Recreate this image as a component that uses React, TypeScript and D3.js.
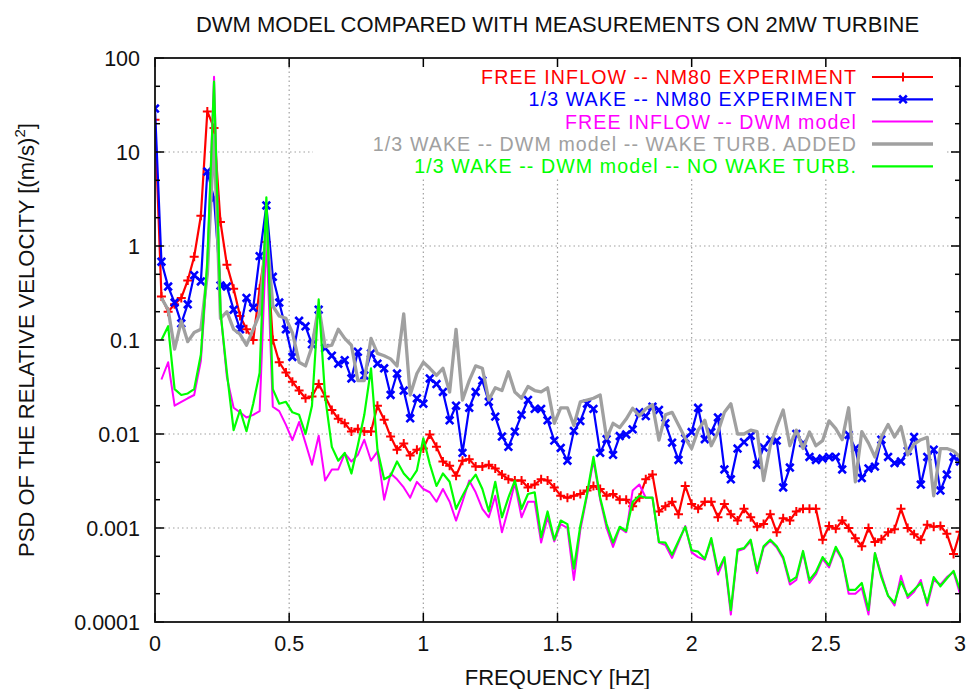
import * as d3 from "d3";

// sample frequencies [Hz], spacing 1/41 Hz
const FREQ = [
  0, 0.024, 0.049, 0.073, 0.098, 0.122, 0.146, 0.171, 0.195, 0.22,
  0.244, 0.268, 0.293, 0.317, 0.341, 0.366, 0.39, 0.415, 0.439, 0.463,
  0.488, 0.512, 0.537, 0.561, 0.585, 0.61, 0.634, 0.659, 0.683, 0.707,
  0.732, 0.756, 0.78, 0.805, 0.829, 0.854, 0.878, 0.902, 0.927, 0.951,
  0.976, 1.0, 1.024, 1.049, 1.073, 1.098, 1.122, 1.146, 1.171, 1.195,
  1.22, 1.244, 1.268, 1.293, 1.317, 1.341, 1.366, 1.39, 1.415, 1.439,
  1.463, 1.488, 1.512, 1.537, 1.561, 1.585, 1.61, 1.634, 1.659, 1.683,
  1.707, 1.732, 1.756, 1.78, 1.805, 1.829, 1.854, 1.878, 1.902, 1.927,
  1.951, 1.976, 2.0, 2.024, 2.049, 2.073, 2.098, 2.122, 2.146, 2.171,
  2.195, 2.22, 2.244, 2.268, 2.293, 2.317, 2.341, 2.366, 2.39, 2.415,
  2.439, 2.463, 2.488, 2.512, 2.537, 2.561, 2.585, 2.61, 2.634, 2.659,
  2.683, 2.707, 2.732, 2.756, 2.78, 2.805, 2.829, 2.854, 2.878, 2.902,
  2.927, 2.951, 2.976, 3.0,
];

const FREE_EXP = [
  22, 0.29, 0.2, 0.24, 0.28, 0.43, 0.77, 2.1, 27, 18,
  1.8, 0.63, 0.35, 0.18, 0.13, 0.1, 0.35, 1.1, 0.1, 0.058,
  0.045, 0.036, 0.029, 0.024, 0.025, 0.034, 0.025, 0.018, 0.0145, 0.013,
  0.0106, 0.0114, 0.0106, 0.0106, 0.02, 0.0142, 0.0094, 0.0068, 0.0079, 0.0059,
  0.0068, 0.007, 0.0099, 0.0073, 0.0051, 0.0046, 0.0036, 0.0052, 0.0054, 0.0045,
  0.0045, 0.0047, 0.0043, 0.0037, 0.0033, 0.0032, 0.0032, 0.0027, 0.0029, 0.0033,
  0.0032, 0.0027, 0.0022, 0.0021, 0.0022, 0.0023, 0.0025, 0.0028, 0.0026, 0.0022,
  0.0023, 0.002, 0.002, 0.0017, 0.0021, 0.0033, 0.0037, 0.0015, 0.0017, 0.0019,
  0.0014, 0.0028, 0.0018, 0.0016, 0.0019, 0.0019, 0.0013, 0.0018, 0.0014, 0.0012,
  0.0016, 0.0013, 0.00103, 0.0011, 0.0014, 0.0009, 0.00127, 0.0012, 0.0015, 0.0016,
  0.0016, 0.0016, 0.00075, 0.00105, 0.00098, 0.0012, 0.001, 0.00078, 0.00064, 0.001,
  0.00071, 0.00076, 0.0009, 0.00097, 0.0016, 0.001, 0.00086, 0.00075, 0.00108, 0.00103,
  0.00105, 0.00087, 0.00053, 0.00091,
];

const WAKE_EXP = [
  29, 0.68, 0.37, 0.25, 0.15, 0.24, 0.49, 0.42, 6.2, 3.2,
  0.38, 0.37, 0.21, 0.13, 0.28, 0.22, 0.78, 2.7, 0.47, 0.25,
  0.13, 0.066, 0.16, 0.14, 0.09, 0.21, 0.082, 0.068, 0.056, 0.061,
  0.039, 0.075, 0.042, 0.072, 0.056, 0.05, 0.026, 0.044, 0.029, 0.0147,
  0.024, 0.021, 0.039, 0.034, 0.028, 0.014, 0.02, 0.0063, 0.019, 0.028,
  0.037, 0.022, 0.0153, 0.0094, 0.0073, 0.0106, 0.016, 0.023, 0.0185, 0.0185,
  0.014, 0.0085, 0.0071, 0.0052, 0.0108, 0.0137, 0.021, 0.0185, 0.0063, 0.0088,
  0.006, 0.0095, 0.0099, 0.0112, 0.017, 0.0155, 0.0195, 0.018, 0.013, 0.0081,
  0.0053, 0.009, 0.0105, 0.019, 0.0088, 0.0105, 0.015, 0.0042, 0.0033, 0.007,
  0.0082, 0.0096, 0.0047, 0.0072, 0.0087, 0.0085, 0.0027, 0.0044, 0.01, 0.008,
  0.0057, 0.0053, 0.0055, 0.0057, 0.0057, 0.0042, 0.0098, 0.007, 0.0034, 0.0043,
  0.0045, 0.0087, 0.0057, 0.0049, 0.0051, 0.0066, 0.0093, 0.0029, 0.0057, 0.0068,
  0.0025, 0.0037, 0.0057, 0.0051,
];

const FREE_DWM = [
  null, 0.038, 0.058, 0.02, 0.022, 0.024, 0.026, 0.06, 0.6, 63,
  0.2, 0.04, 0.019, 0.017, 0.015, 0.016, 0.0175, 1.3, 0.0195, 0.0175,
  0.0125, 0.0086, 0.0134, 0.008, 0.0047, 0.0096, 0.0032, 0.0042, 0.0042, 0.0062,
  0.0051, 0.006, 0.0087, 0.0052, 0.0065, 0.002, 0.0038, 0.0033, 0.0027, 0.0021,
  0.0031, 0.0026, 0.0024, 0.0019, 0.0026, 0.0019, 0.0012, 0.0019, 0.0032, 0.0024,
  0.0016, 0.0013, 0.0022, 0.0009, 0.0016, 0.003, 0.0013, 0.0019, 0.0019, 0.0007,
  0.0013, 0.00072, 0.0011, 0.001, 0.00028, 0.00095, 0.0022, 0.0052, 0.002, 0.001,
  0.00063, 0.001, 0.0009, 0.0025, 0.0029, 0.0021, 0.0021, 0.0007, 0.00066, 0.00048,
  0.0007, 0.00105, 0.00055, 0.00049, 0.00046, 0.00075, 0.00032, 0.00047, 0.00012, 0.00057,
  0.0006, 0.00072, 0.00033, 0.00062, 0.00073, 0.00062, 0.00047, 0.00025, 0.00028, 0.00055,
  0.00026, 0.00032, 0.00047, 0.00038, 0.0006, 0.00046, 0.0002, 0.0002, 0.00023, 0.00012,
  0.00054, 0.00032, 0.00019, 0.00015, 0.00031, 0.00018, 0.00021, 0.00028, 0.00015, 0.00028,
  0.00025, 0.0003, 0.00034, 0.0002,
];

const WAKE_DWM_TURB = [
  null, 0.28, 0.21, 0.08, 0.16, 0.096, 0.12, 0.13, 0.5, 15,
  0.17, 0.2, 0.13, 0.115, 0.088, 0.13, 0.19, 1.6, 0.23, 0.18,
  0.17, 0.12, 0.058, 0.053, 0.085, 0.23, 0.085, 0.088, 0.13, 0.104,
  0.088, 0.037, 0.037, 0.104, 0.072, 0.068, 0.063, 0.053, 0.19, 0.026,
  0.044, 0.058, 0.05, 0.042, 0.05, 0.028, 0.13, 0.023, 0.037, 0.053,
  0.05, 0.023, 0.031, 0.029, 0.046, 0.028, 0.024, 0.032, 0.029, 0.028,
  0.031, 0.013, 0.019, 0.019, 0.0123, 0.022, 0.023, 0.024, 0.026, 0.009,
  0.013, 0.0117, 0.0144, 0.0188, 0.0156, 0.0185, 0.0205, 0.0086, 0.016, 0.017,
  0.0125, 0.009, 0.007, 0.011, 0.014, 0.0075, 0.0105, 0.017, 0.021, 0.01,
  0.01, 0.011, 0.0106, 0.0032, 0.0075, 0.012, 0.018, 0.0075, 0.011, 0.007,
  0.0105, 0.0075, 0.0085, 0.0138, 0.0114, 0.0087, 0.019, 0.0031, 0.0106, 0.008,
  0.0057, 0.0093, 0.0126, 0.0093, 0.012, 0.006, 0.0078, 0.0087, 0.0092, 0.0022,
  0.007, 0.007, 0.0066, 0.0057,
];

const WAKE_DWM_NOTURB = [
  null, 0.1, 0.14, 0.03, 0.026, 0.027, 0.03, 0.07, 0.7, 56,
  0.2, 0.045, 0.011, 0.018, 0.0107, 0.021, 0.045, 3.3, 0.03, 0.021,
  0.022, 0.017, 0.016, 0.01, 0.02, 0.27, 0.025, 0.0073, 0.0052, 0.0063,
  0.0038, 0.0076, 0.016, 0.05, 0.0068, 0.0033, 0.0036, 0.0051, 0.0038, 0.0032,
  0.0041, 0.009, 0.0048, 0.0028, 0.0038, 0.0031, 0.0016, 0.0022, 0.003, 0.0037,
  0.0026, 0.0015, 0.0031, 0.0013, 0.0021, 0.0032, 0.0016, 0.0023, 0.0024, 0.0008,
  0.0015, 0.00075, 0.0012, 0.0011, 0.00037, 0.00105, 0.0023, 0.0057, 0.0021, 0.0011,
  0.0007, 0.00103, 0.00093, 0.0019, 0.0022, 0.0021, 0.0021, 0.00071, 0.0007, 0.00052,
  0.00073, 0.00103, 0.00058, 0.00056, 0.00047, 0.00078, 0.00035, 0.00049, 0.000134, 0.00059,
  0.00061, 0.00075, 0.00035, 0.00064, 0.00075, 0.00064, 0.00049, 0.00027, 0.0003, 0.00057,
  0.00028, 0.00034, 0.00049, 0.0004, 0.00063, 0.00047, 0.00022, 0.00022, 0.00026, 0.000134,
  0.00054, 0.0003, 0.00019, 0.00016, 0.00027, 0.00019, 0.00022, 0.00026, 0.00016, 0.0003,
  0.00024, 0.00029, 0.00035, 0.00022,
];

const X_TICKS = [0, 0.5, 1, 1.5, 2, 2.5, 3];
const X_TICK_LABELS = ["0", "0.5", "1", "1.5", "2", "2.5", "3"];
const Y_TICKS = [100, 10, 1, 0.1, 0.01, 0.001, 0.0001];
const Y_TICK_LABELS = ["100", "10", "1", "0.1", "0.01", "0.001", "0.0001"];
const Y_MINOR = [50, 20, 5, 2, 0.5, 0.2, 0.05, 0.02, 0.005, 0.002, 0.0005, 0.0002];

const SERIES = [
  { label: "FREE INFLOW -- NM80 EXPERIMENT", values: FREE_EXP, color: "#ff0000", width: 2.2, marker: "plus" },
  { label: "1/3 WAKE -- NM80 EXPERIMENT", values: WAKE_EXP, color: "#0000ff", width: 2.2, marker: "cross" },
  { label: "FREE INFLOW -- DWM model", values: FREE_DWM, color: "#ff00ff", width: 2, marker: null },
  { label: "1/3 WAKE -- DWM model -- WAKE TURB. ADDED", values: WAKE_DWM_TURB, color: "#a0a0a0", width: 3.3, marker: null },
  { label: "1/3 WAKE -- DWM model -- NO WAKE TURB.", values: WAKE_DWM_NOTURB, color: "#00ff00", width: 2.2, marker: null },
];

const FONT = "'Liberation Sans', Arial, Helvetica, sans-serif";

function Marker({ kind, cx, cy, color }: { kind: string | null; cx: number; cy: number; color: string }) {
  if (kind === "plus") {
    return <path d={`M${cx - 4.5},${cy}H${cx + 4.5}M${cx},${cy - 4.5}V${cy + 4.5}`} stroke={color} strokeWidth={2} />;
  }
  if (kind === "cross") {
    return (
      <path
        d={`M${cx - 3.8},${cy - 3.8}L${cx + 3.8},${cy + 3.8}M${cx - 3.8},${cy + 3.8}L${cx + 3.8},${cy - 3.8}`}
        stroke={color}
        strokeWidth={2.6}
      />
    );
  }
  return null;
}

export default function App() {
  const width = 970;
  const height = 689;
  const left = 155;
  const right = 960;
  const top = 58;
  const bottom = 622;

  const x = d3.scaleLinear().domain([0, 3]).range([left, right]);
  const y = d3.scaleLog().domain([0.0001, 100]).range([bottom, top]);

  const line = d3
    .line<number | null>()
    .defined((v) => v != null)
    .x((_, i) => x(FREQ[i]))
    .y((v) => y(v as number));

  const legendY = [77, 99.3, 121.6, 144, 166.3];

  return (
    <div style={{ position: "absolute", left: 0, top: 0, width, height, background: "#fff" }}>
      <svg width={width} height={height} viewBox={`0 0 ${width} ${height}`} style={{ display: "block" }} fontFamily={FONT}>
        <rect width={width} height={height} fill="#fff" />
        <defs>
          <clipPath id="plot">
            <rect x={left} y={top} width={right - left} height={bottom - top} />
          </clipPath>
        </defs>

        <text x={(left + right) / 2} y={32} textAnchor="middle" fontSize={22} fill="#111">
          DWM MODEL COMPARED WITH MEASUREMENTS ON 2MW TURBINE
        </text>

        {/* grid */}
        <g stroke="#a0a0a0" strokeWidth={1.2} strokeDasharray="1.5,3">
          {Y_TICKS.slice(1, -1).map((t) => (
            <line key={t} x1={left} x2={right} y1={y(t)} y2={y(t)} />
          ))}
          {X_TICKS.slice(1, -1).map((t) => (
            <line key={t} x1={x(t)} x2={x(t)} y1={top} y2={bottom} />
          ))}
        </g>

        <g clipPath="url(#plot)">
          {SERIES.map((s) => (
            <g key={s.label}>
              <path d={line(s.values) ?? ""} fill="none" stroke={s.color} strokeWidth={s.width} strokeLinejoin="round" />
              {s.marker &&
                s.values.map((v, i) =>
                  v == null ? null : <Marker key={i} kind={s.marker} cx={x(FREQ[i])} cy={y(v)} color={s.color} />
                )}
            </g>
          ))}
        </g>

        {/* legend */}
        <rect x={313} y={top + 1} width={634} height={118} fill="#fff" />
        {SERIES.map((s, i) => (
          <g key={s.label}>
            <text x={857} y={legendY[i] + 7.1} textAnchor="end" fontSize={19.6} letterSpacing={1.1} fill={s.color}>
              {s.label}
            </text>
            <line x1={872} x2={933} y1={legendY[i]} y2={legendY[i]} stroke={s.color} strokeWidth={s.width} />
            <Marker kind={s.marker} cx={903} cy={legendY[i]} color={s.color} />
          </g>
        ))}

        {/* ticks */}
        <g stroke="#000" strokeWidth={1.5}>
          {Y_TICKS.map((t) => (
            <g key={t}>
              <line x1={left} x2={left + 9} y1={y(t)} y2={y(t)} />
              <line x1={right} x2={right - 9} y1={y(t)} y2={y(t)} />
            </g>
          ))}
          {Y_MINOR.map((t) => (
            <g key={t}>
              <line x1={left} x2={left + 5} y1={y(t)} y2={y(t)} />
              <line x1={right} x2={right - 5} y1={y(t)} y2={y(t)} />
            </g>
          ))}
          {X_TICKS.map((t) => (
            <g key={t}>
              <line x1={x(t)} x2={x(t)} y1={bottom} y2={bottom - 9} />
              <line x1={x(t)} x2={x(t)} y1={top} y2={top + 9} />
            </g>
          ))}
        </g>
        <rect x={left} y={top} width={right - left} height={bottom - top} fill="none" stroke="#111" strokeWidth={1.8} />

        {/* tick labels */}
        {Y_TICKS.map((t, i) => (
          <text key={t} x={140} y={y(t) + 7.6} textAnchor="end" fontSize={21.5} fill="#111">
            {Y_TICK_LABELS[i]}
          </text>
        ))}
        {X_TICKS.map((t, i) => (
          <text key={t} x={x(t)} y={651} textAnchor="middle" fontSize={21.5} fill="#111">
            {X_TICK_LABELS[i]}
          </text>
        ))}

        <text x={(left + right) / 2} y={685} textAnchor="middle" fontSize={22} fill="#111">
          FREQUENCY [HZ]
        </text>
        <text transform={`translate(33.5, ${(top + bottom) / 2}) rotate(-90)`} textAnchor="middle" fontSize={22} fill="#111">
          PSD OF THE RELATIVE VELOCITY [(m/s)
          <tspan dy={-9} fontSize={15}>
            2
          </tspan>
          <tspan dy={9}>]</tspan>
        </text>
      </svg>
    </div>
  );
}
